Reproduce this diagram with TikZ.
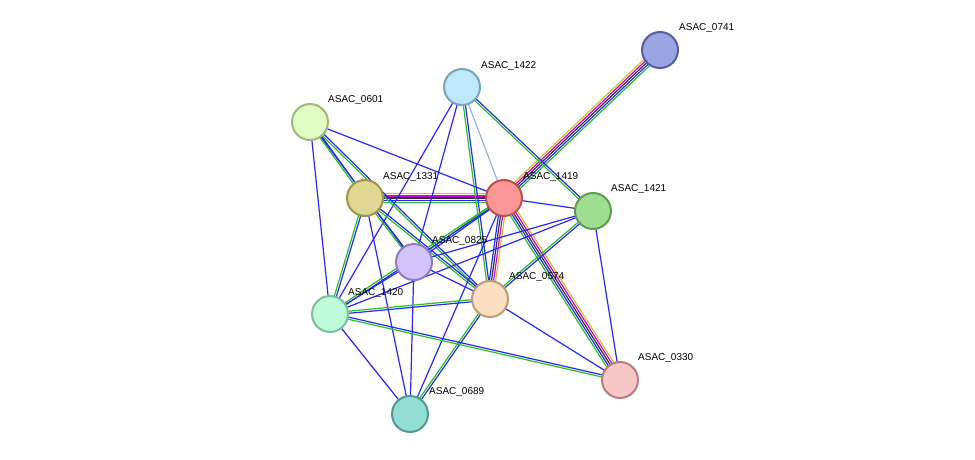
\documentclass[tikz,border=0pt]{standalone}
\usepackage{fontspec}
\setmainfont{Liberation Sans}
\usetikzlibrary{calc}
\definecolor{eblue}{RGB}{40,40,240}
\definecolor{egreen}{RGB}{40,190,40}
\definecolor{eyel}{RGB}{200,200,40}
\definecolor{emag}{RGB}{210,0,210}
\definecolor{eblk}{RGB}{50,50,50}
\definecolor{elblue}{RGB}{160,170,240}
% one STRING edge, n parallel colours
\newcommand\stredge[4]{%
  \foreach \c [count=\i] in {#4} {
    \pgfmathsetmacro\off{(\i-(#3+1)/2)*2.1}
    \draw[\c, line width=1.2pt] ($(#1)!\off pt!90:(#2)$) -- ($(#2)!\off pt!-90:(#1)$);
  }}
\begin{document}
\begin{tikzpicture}[x=1pt,y=-1pt]
	\tikzset{prot/.style = {shape=circle, draw, line width=2pt, minimum size=36pt, inner sep=0pt},
	         lbl/.style = {anchor=south west, inner sep=0pt, font=\fontsize{10}{11}\selectfont}}
	\useasboundingbox (0,0) rectangle (975,460);

	\coordinate (p0741) at (660,50);
	\coordinate (p1422) at (462,87);
	\coordinate (p0601) at (310,122);
	\coordinate (p1331) at (365,198);
	\coordinate (p1419) at (504,198);
	\coordinate (p1421) at (593,211);
	\coordinate (p0825) at (414,262);
	\coordinate (p0574) at (490,299);
	\coordinate (p1420) at (330,314);
	\coordinate (p0330) at (620,380);
	\coordinate (p0689) at (410,414);

	\stredge{p1419}{p0741}{5}{egreen,eblue,eblk,emag,eyel}
	\stredge{p1331}{p1419}{5}{egreen,eblue,eblk,emag,eyel}
	\stredge{p1419}{p0330}{5}{egreen,eblue,eblk,emag,eyel}
	\stredge{p1419}{p0574}{4}{eblue,eblk,emag,eyel}
	\stredge{p1422}{p1421}{2}{egreen,eblue}
	\stredge{p1422}{p1419}{1}{elblue}
	\stredge{p1422}{p0574}{2}{egreen,eblue}
	\stredge{p1422}{p0825}{1}{eblue}
	\stredge{p1422}{p1420}{1}{eblue}
	\stredge{p0601}{p1419}{1}{eblue}
	\stredge{p0601}{p1331}{2}{egreen,eblue}
	\stredge{p0601}{p0825}{1}{eblue}
	\stredge{p0601}{p0574}{2}{egreen,eblue}
	\stredge{p0601}{p1420}{1}{eblue}
	\stredge{p1331}{p1420}{2}{egreen,eblue}
	\stredge{p1331}{p0825}{2}{egreen,eblue}
	\stredge{p1331}{p0574}{2}{egreen,eblue}
	\stredge{p1331}{p0689}{1}{eblue}
	\stredge{p1419}{p1421}{1}{eblue}
	\stredge{p1419}{p0825}{2}{egreen,eblue}
	\stredge{p1419}{p1420}{2}{egreen,eblue}
	\stredge{p1419}{p0689}{1}{eblue}
	\stredge{p1421}{p0825}{1}{eblue}
	\stredge{p1421}{p1420}{1}{eblue}
	\stredge{p1421}{p0574}{2}{egreen,eblue}
	\stredge{p1421}{p0330}{1}{eblue}
	\stredge{p0825}{p0689}{1}{eblue}
	\stredge{p0825}{p0574}{1}{eblue}
	\stredge{p0825}{p1420}{1}{eblue}
	\stredge{p0574}{p1420}{2}{egreen,eblue}
	\stredge{p0574}{p0689}{2}{egreen,eblue}
	\stredge{p0574}{p0330}{1}{eblue}
	\stredge{p1420}{p0330}{2}{egreen,eblue}
	\stredge{p1420}{p0689}{1}{eblue}

	\node[prot, draw={rgb,255:red,85;green,95;blue,160}, fill={rgb,255:red,155;green,165;blue,228}] (n0741) at (p0741) {};
	\node[prot, draw={rgb,255:red,120;green,165;blue,190}, fill={rgb,255:red,190;green,232;blue,252}] (n1422) at (p1422) {};
	\node[prot, draw={rgb,255:red,160;green,185;blue,120}, fill={rgb,255:red,225;green,252;blue,195}] (n0601) at (p0601) {};
	\node[prot, draw={rgb,255:red,160;green,150;blue,70}, fill={rgb,255:red,222;green,216;blue,148}] (n1331) at (p1331) {};
	\node[prot, draw={rgb,255:red,190;green,80;blue,80}, fill={rgb,255:red,252;green,150;blue,150}] (n1419) at (p1419) {};
	\node[prot, draw={rgb,255:red,95;green,155;blue,85}, fill={rgb,255:red,158;green,222;blue,145}] (n1421) at (p1421) {};
	\node[prot, draw={rgb,255:red,145;green,125;blue,190}, fill={rgb,255:red,210;green,195;blue,250}] (n0825) at (p0825) {};
	\node[prot, draw={rgb,255:red,190;green,155;blue,120}, fill={rgb,255:red,252;green,222;blue,192}] (n0574) at (p0574) {};
	\node[prot, draw={rgb,255:red,125;green,190;blue,155}, fill={rgb,255:red,190;green,252;blue,218}] (n1420) at (p1420) {};
	\node[prot, draw={rgb,255:red,190;green,125;blue,125}, fill={rgb,255:red,248;green,200;blue,200}] (n0330) at (p0330) {};
	\node[prot, draw={rgb,255:red,80;green,155;blue,145}, fill={rgb,255:red,148;green,222;blue,212}] (n0689) at (p0689) {};

	\node[lbl] (l0741) at (679,33) {ASAC\_0741};
	\node[lbl] (l1422) at (481,71) {ASAC\_1422};
	\node[lbl] (l0601) at (328,105) {ASAC\_0601};
	\node[lbl] (l1331) at (383,182) {ASAC\_1331};
	\node[lbl] (l1419) at (523,182) {ASAC\_1419};
	\node[lbl] (l1421) at (611,194) {ASAC\_1421};
	\node[lbl] (l0825) at (432,246) {ASAC\_0825};
	\node[lbl] (l0574) at (509,282) {ASAC\_0574};
	\node[lbl] (l1420) at (348,298) {ASAC\_1420};
	\node[lbl] (l0330) at (638,363) {ASAC\_0330};
	\node[lbl] (l0689) at (429,397) {ASAC\_0689};
\end{tikzpicture}
\end{document}
